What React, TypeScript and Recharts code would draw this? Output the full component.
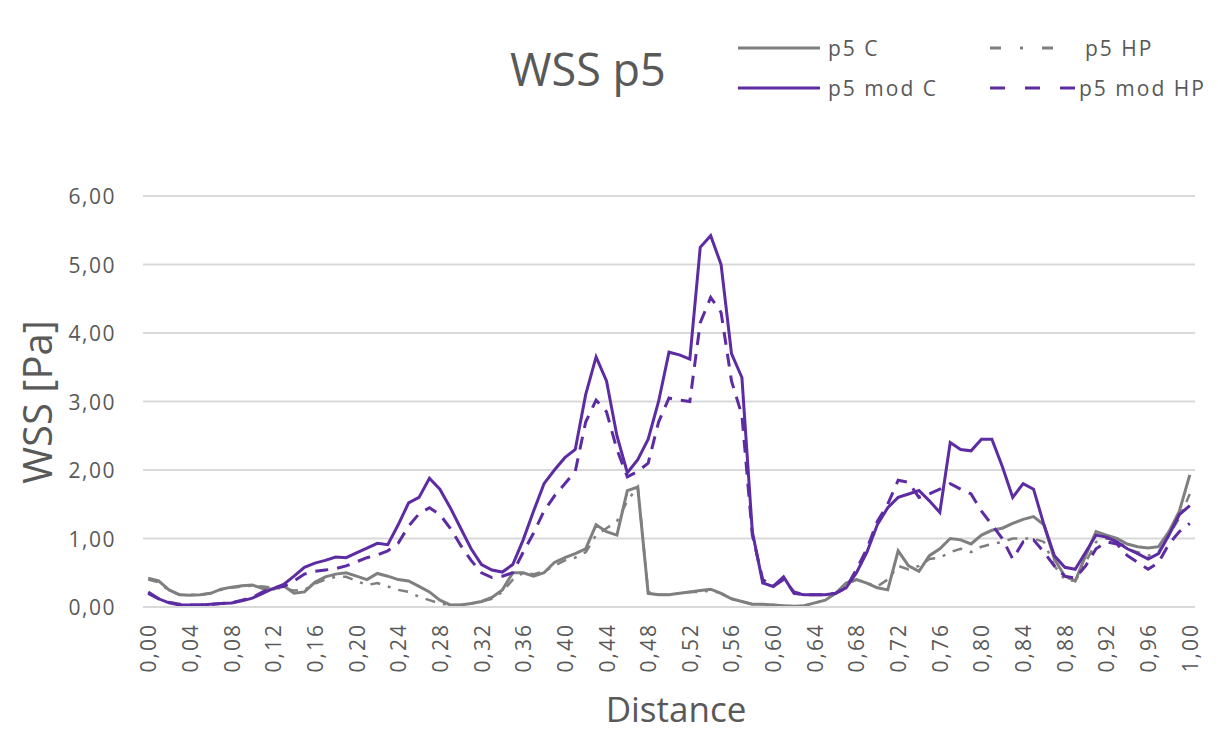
import React from 'react';
import { LineChart, Line, XAxis, YAxis, CartesianGrid } from 'recharts';

const distance = [
  0.00, 0.01, 0.02, 0.03, 0.04, 0.05, 0.06, 0.07, 0.08, 0.09,
  0.10, 0.11, 0.12, 0.13, 0.14, 0.15, 0.16, 0.17, 0.18, 0.19,
  0.20, 0.21, 0.22, 0.23, 0.24, 0.25, 0.26, 0.27, 0.28, 0.29,
  0.30, 0.31, 0.32, 0.33, 0.34, 0.35, 0.36, 0.37, 0.38, 0.39,
  0.40, 0.41, 0.42, 0.43, 0.44, 0.45, 0.46, 0.47, 0.48, 0.49,
  0.50, 0.51, 0.52, 0.53, 0.54, 0.55, 0.56, 0.57, 0.58, 0.59,
  0.60, 0.61, 0.62, 0.63, 0.64, 0.65, 0.66, 0.67, 0.68, 0.69,
  0.70, 0.71, 0.72, 0.73, 0.74, 0.75, 0.76, 0.77, 0.78, 0.79,
  0.80, 0.81, 0.82, 0.83, 0.84, 0.85, 0.86, 0.87, 0.88, 0.89,
  0.90, 0.91, 0.92, 0.93, 0.94, 0.95, 0.96, 0.97, 0.98, 0.99,
  1.00,
];

const p5C = [
  0.42, 0.38, 0.25, 0.18, 0.17, 0.18, 0.20, 0.26, 0.29, 0.31,
  0.32, 0.27, 0.26, 0.31, 0.20, 0.22, 0.36, 0.44, 0.48, 0.50,
  0.45, 0.40, 0.49, 0.45, 0.40, 0.38, 0.30, 0.22, 0.10, 0.03,
  0.03, 0.05, 0.08, 0.14, 0.25, 0.50, 0.50, 0.45, 0.50, 0.65,
  0.72, 0.78, 0.85, 1.20, 1.10, 1.05, 1.70, 1.75, 0.20, 0.18,
  0.18, 0.20, 0.22, 0.24, 0.26, 0.20, 0.12, 0.08, 0.04, 0.04,
  0.03, 0.02, 0.01, 0.02, 0.06, 0.10, 0.20, 0.35, 0.40, 0.35,
  0.28, 0.25, 0.82, 0.60, 0.52, 0.75, 0.85, 1.00, 0.98, 0.92,
  1.05, 1.12, 1.15, 1.22, 1.28, 1.32, 1.20, 0.70, 0.45, 0.38,
  0.75, 1.10, 1.05, 1.00, 0.92, 0.88, 0.86, 0.88, 1.10, 1.40,
  1.93,
];

const p5HP = [
  0.40, 0.36, 0.24, 0.18, 0.18, 0.18, 0.20, 0.25, 0.28, 0.30,
  0.31, 0.30, 0.28, 0.27, 0.24, 0.25, 0.34, 0.40, 0.44, 0.44,
  0.38, 0.32, 0.35, 0.30, 0.25, 0.22, 0.15, 0.10, 0.05, 0.03,
  0.03, 0.05, 0.08, 0.12, 0.22, 0.40, 0.50, 0.48, 0.52, 0.60,
  0.68, 0.72, 0.80, 1.05, 1.15, 1.25, 1.55, 1.75, 0.22, 0.18,
  0.18, 0.20, 0.22, 0.22, 0.24, 0.20, 0.12, 0.08, 0.04, 0.04,
  0.03, 0.02, 0.01, 0.02, 0.06, 0.10, 0.20, 0.32, 0.40, 0.35,
  0.30, 0.40, 0.60, 0.55, 0.60, 0.70, 0.72, 0.80, 0.85, 0.80,
  0.88, 0.92, 0.95, 1.00, 1.00, 1.00, 0.95, 0.60, 0.40, 0.38,
  0.65, 0.95, 1.00, 0.98, 0.85, 0.80, 0.75, 0.80, 1.05, 1.30,
  1.65,
];

const p5ModC = [
  0.22, 0.12, 0.06, 0.03, 0.03, 0.03, 0.04, 0.05, 0.06, 0.09,
  0.13, 0.20, 0.27, 0.33, 0.45, 0.58, 0.64, 0.68, 0.73, 0.72,
  0.79, 0.86, 0.93, 0.91, 1.20, 1.52, 1.60, 1.88, 1.72, 1.45,
  1.15, 0.85, 0.62, 0.54, 0.51, 0.62, 0.98, 1.40, 1.80, 2.00,
  2.18, 2.30, 3.10, 3.65, 3.30, 2.50, 1.96, 2.15, 2.45, 3.00,
  3.72, 3.68, 3.62, 5.25, 5.42, 5.00, 3.70, 3.35, 1.10, 0.35,
  0.30, 0.44, 0.20, 0.18, 0.18, 0.18, 0.20, 0.28, 0.50, 0.80,
  1.20, 1.45, 1.60, 1.65, 1.70, 1.55, 1.38, 2.40, 2.30, 2.28,
  2.45, 2.45, 2.05, 1.60, 1.80, 1.72, 1.20, 0.75, 0.58, 0.55,
  0.80, 1.05, 1.02, 0.95, 0.85, 0.78, 0.70, 0.78, 1.05, 1.35,
  1.48,
];

const p5ModHP = [
  0.20, 0.12, 0.07, 0.04, 0.03, 0.03, 0.04, 0.05, 0.06, 0.10,
  0.14, 0.22, 0.28, 0.30, 0.38, 0.48, 0.52, 0.54, 0.56, 0.60,
  0.66, 0.72, 0.76, 0.82, 0.93, 1.18, 1.36, 1.45, 1.35, 1.15,
  0.90, 0.68, 0.50, 0.43, 0.45, 0.50, 0.80, 1.08, 1.40, 1.62,
  1.80, 1.98, 2.70, 3.02, 2.85, 2.30, 1.90, 1.98, 2.10, 2.70,
  3.05, 3.02, 3.00, 4.15, 4.52, 4.30, 3.30, 2.80, 1.05, 0.40,
  0.30, 0.40, 0.22, 0.18, 0.18, 0.18, 0.20, 0.28, 0.55, 0.85,
  1.25, 1.50, 1.85, 1.82, 1.60, 1.65, 1.72, 1.80, 1.72, 1.65,
  1.40, 1.20, 1.00, 0.70, 0.95, 0.98, 0.80, 0.60, 0.45, 0.42,
  0.60, 0.85, 0.95, 0.92, 0.75, 0.65, 0.55, 0.65, 0.92, 1.10,
  1.22,
];

const xTicks = [0, 0.04, 0.08, 0.12, 0.16, 0.2, 0.24, 0.28, 0.32, 0.36, 0.4, 0.44, 0.48,
  0.52, 0.56, 0.6, 0.64, 0.68, 0.72, 0.76, 0.8, 0.84, 0.88, 0.92, 0.96, 1];
const yTicks = [0, 1, 2, 3, 4, 5, 6];

const seriesNames = ['p5 C', 'p5 HP', 'p5 mod C', 'p5 mod HP'];
const chartTitle = 'WSS p5';
const yTitle = 'WSS [Pa]';
const xTitle = 'Distance';

const data = distance.map((d, i) => ({
  d,
  c: p5C[i],
  hp: p5HP[i],
  mc: p5ModC[i],
  mhp: p5ModHP[i],
}));

const GREY = '#7f7f7f';
const PURPLE = '#5d2ca3';
const TEXT = '#595959';
const FONT = '"Open Sans", "DejaVu Sans", sans-serif';
const DASHDOT = '10 8 3 8';
const DASH = '13 9';

const fmt = (v: number) => v.toFixed(2).replace('.', ',');

const XTick = (props: any) => {
  const { x, y, payload } = props;
  const ty = y + 8;
  return (
    <text
      x={x}
      y={ty}
      transform={`rotate(-90, ${x}, ${ty})`}
      textAnchor="end"
      dominantBaseline="central"
      fill={TEXT}
      fontSize={21}
      letterSpacing={2}
      fontFamily={FONT}
    >
      {fmt(payload.value)}
    </text>
  );
};

const YTick = (props: any) => {
  const { x, y, payload } = props;
  return (
    <text
      x={x - 19}
      y={y}
      textAnchor="end"
      dominantBaseline="central"
      fill={TEXT}
      fontSize={21}
      letterSpacing={1.5}
      fontFamily={FONT}
    >
      {fmt(payload.value)}
    </text>
  );
};

export default function App() {
  return (
    <div style={{ position: 'absolute', left: 0, top: 0, width: 1218, height: 733, background: '#fff', overflow: 'hidden' }}>
      <div style={{ position: 'absolute', left: 0, top: 0 }}>
        <LineChart
          width={1218}
          height={733}
          data={data}
          margin={{ top: 196, right: 23, bottom: 0, left: 0 }}
        >
          <CartesianGrid horizontal vertical={false} stroke="#d9d9d9" strokeWidth={2} />
          <XAxis
            dataKey="d"
            type="number"
            domain={[-0.005, 1.005]}
            allowDataOverflow
            ticks={xTicks}
            interval={0}
            height={126}
            axisLine={{ stroke: '#d9d9d9', strokeWidth: 2 }}
            tickLine={false}
            tick={<XTick />}
          />
          <YAxis
            type="number"
            domain={[0, 6]}
            ticks={yTicks}
            width={143}
            axisLine={false}
            tickLine={false}
            tick={<YTick />}
          />
          <Line type="linear" dataKey="c" name={seriesNames[0]} stroke={GREY} strokeWidth={3} dot={false} isAnimationActive={false} />
          <Line type="linear" dataKey="hp" name={seriesNames[1]} stroke={GREY} strokeWidth={2.5} strokeDasharray={DASHDOT} dot={false} isAnimationActive={false} />
          <Line type="linear" dataKey="mc" name={seriesNames[2]} stroke={PURPLE} strokeWidth={3} dot={false} isAnimationActive={false} />
          <Line type="linear" dataKey="mhp" name={seriesNames[3]} stroke={PURPLE} strokeWidth={3} strokeDasharray={DASH} dot={false} isAnimationActive={false} />
        </LineChart>
      </div>
      <svg width={1218} height={733} style={{ position: 'absolute', left: 0, top: 0, pointerEvents: 'none' }}>
        <text x={510} y={86} fontFamily={FONT} fontSize={45} fill={TEXT}>{chartTitle}</text>

        <line x1={738} y1={48} x2={820} y2={48} stroke={GREY} strokeWidth={3} />
        <text x={828} y={48} dominantBaseline="central" fontFamily={FONT} fontSize={21} letterSpacing={2} fill={TEXT}>{seriesNames[0]}</text>

        <line x1={990} y1={48} x2={1064} y2={48} stroke={GREY} strokeWidth={3} strokeDasharray="11 19 3 19" />
        <text x={1085} y={48} dominantBaseline="central" fontFamily={FONT} fontSize={21} letterSpacing={2} fill={TEXT}>{seriesNames[1]}</text>

        <line x1={738} y1={88} x2={820} y2={88} stroke={PURPLE} strokeWidth={3} />
        <text x={828} y={88} dominantBaseline="central" fontFamily={FONT} fontSize={21} letterSpacing={2} fill={TEXT}>{seriesNames[2]}</text>

        <line x1={990} y1={88} x2={1077} y2={88} stroke={PURPLE} strokeWidth={3} strokeDasharray="15 20" />
        <text x={1079} y={88} dominantBaseline="central" fontFamily={FONT} fontSize={21} letterSpacing={2} fill={TEXT}>{seriesNames[3]}</text>

        <text
          x={52}
          y={402}
          transform="rotate(-90, 52, 402)"
          textAnchor="middle"
          fontFamily={FONT}
          fontSize={40}
          fill={TEXT}
        >
          {yTitle}
        </text>
        <text x={676} y={722} textAnchor="middle" fontFamily={FONT} fontSize={35} fill={TEXT}>{xTitle}</text>
      </svg>
    </div>
  );
}
